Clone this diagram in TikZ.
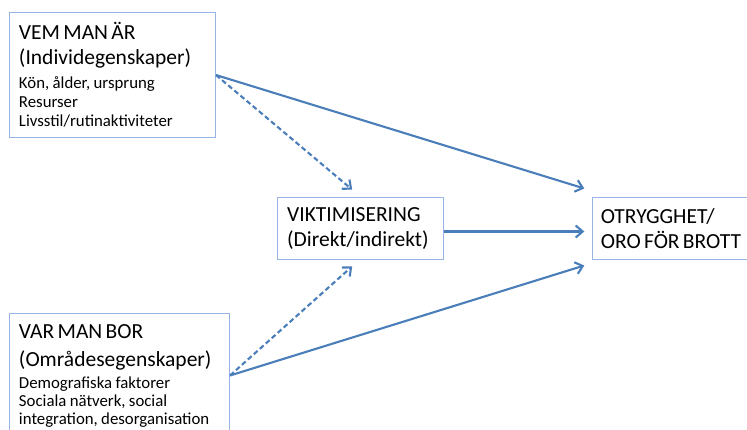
\documentclass[tikz,border=0pt]{standalone}
\usepackage{fontspec}
\setmainfont{Carlito}
\usetikzlibrary{arrows.meta}
\definecolor{ramblue}{RGB}{150,180,228}
\definecolor{pilblue}{RGB}{74,126,187}
\newcommand\stor{\fontsize{21.5}{25}\selectfont}
\newcommand\liten{\fontsize{16.8}{19}\selectfont}
\tikzset{
	ruta/.style={draw=ramblue,line width=1pt,anchor=north west,inner xsep=9.5pt,inner ysep=0pt,align=left},
	pil/.style={draw=pilblue,line width=2.1pt,-{Straight Barb[length=7pt,width=12pt]}},
	streckpil/.style={pil,dash pattern=on 5pt off 3pt}
}
\begin{document}
\begin{tikzpicture}[x=1pt,y=-1pt]
		\useasboundingbox(0,0)rectangle(747,430);
		\clip(0,0)rectangle(747,430);
		\node[ruta,minimum width=206pt,minimum height=124.5pt,text width=187pt](vem)at(9,12.3){\stor VEM MAN ÄR\par(Individegenskaper)\par\liten\vspace{5pt}Kön, ålder, ursprung\par Resurser\par Livsstil/rutinaktiviteter\par};
		\node[ruta,minimum width=220pt,minimum height=123.4pt,text width=201pt](var)at(9,313.3){\fontsize{21.5}{28}\selectfont VAR MAN BOR\par(Områdesegenskaper)\par\fontsize{16.8}{18}\selectfont\vspace{4pt}Demografiska faktorer\par Sociala nätverk, social\par integration, desorganisation\par};
		\node[ruta,inner xsep=10pt,minimum width=164.3pt,minimum height=62.6pt,text width=146pt](vik)at(276.7,196.7){\stor VIKTIMISERING\par(Direkt/indirekt)\par};
		\node[ruta,inner xsep=8pt,minimum width=170pt,minimum height=62.6pt,text width=154pt](oro)at(592.3,196.7){\stor OTRYGGHET/\par ORO FÖR BROTT\par};
		\draw[pil](vem.east)--([xshift=-8pt,yshift=40pt]oro.west);
		\draw[pil]([yshift=-3pt]vik.east)--([xshift=-8pt,yshift=-3pt]oro.west);
		\draw[pil](var.east)--([xshift=-8pt,yshift=-37pt]oro.west);
		\draw[streckpil](vem.east)--([xshift=-8pt,yshift=7pt]vik.north);
		\draw[streckpil](var.east)--([xshift=-8pt,yshift=-6pt]vik.south);
	\end{tikzpicture}
\end{document}
